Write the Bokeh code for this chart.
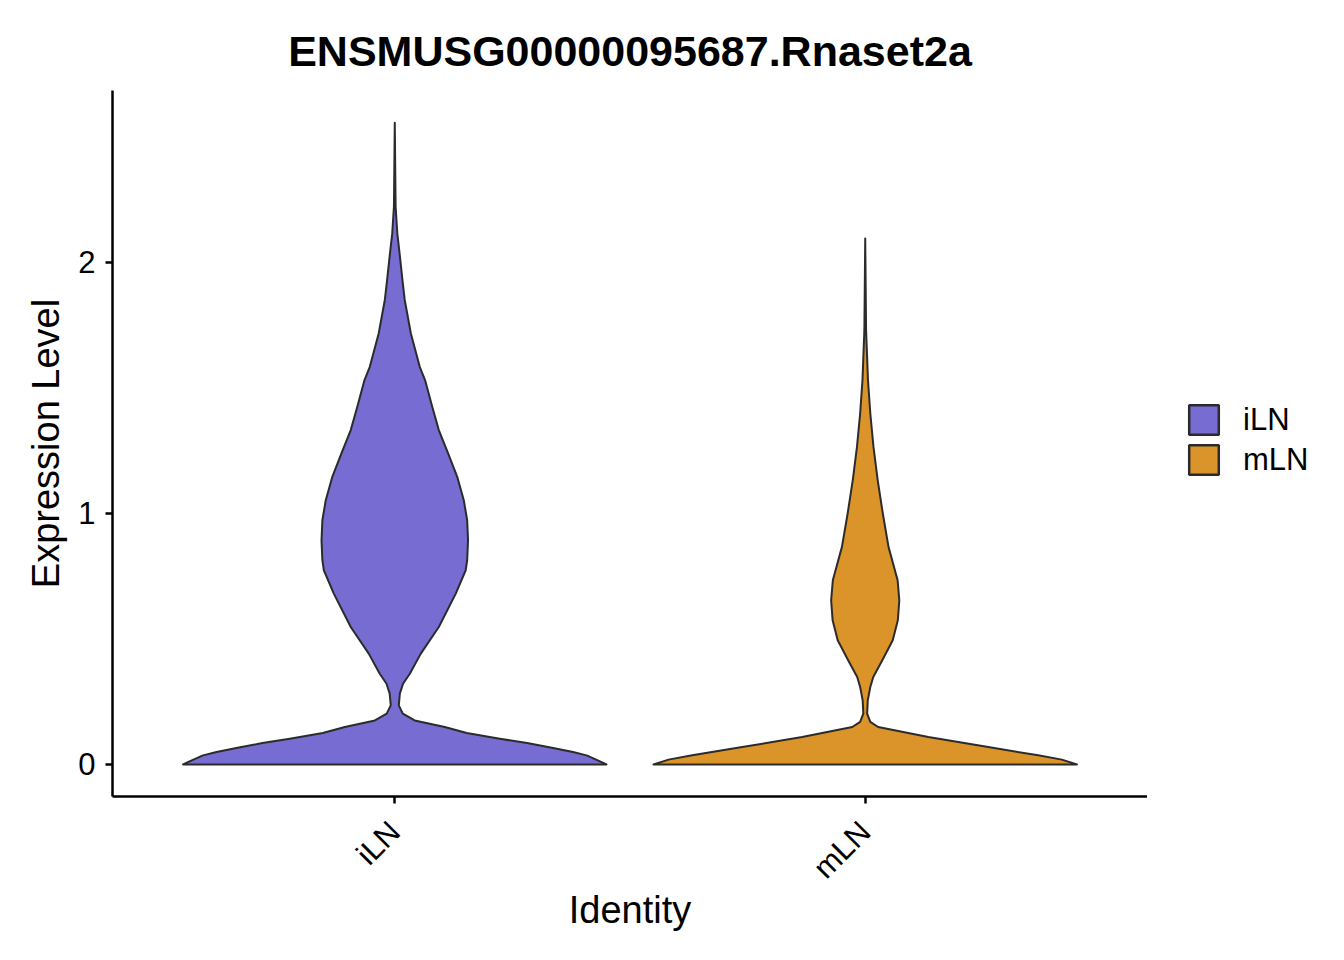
import math
from bokeh.plotting import figure
from bokeh.layouts import row
from bokeh.models import Legend, LegendItem, FixedTicker
from bokeh.embed import file_html
from bokeh.resources import INLINE

# ---- data ----
groups = ["iLN", "mLN"]
colors = ["#766CD2", "#DB942A"]
y_ticks = [0, 1, 2]

# expression level (y) and relative violin width (1 = widest) along each violin
iln_level = [0.000, 0.016, 0.036, 0.049, 0.066, 0.085, 0.102, 0.125, 0.149, 0.175,
             0.202, 0.235, 0.282, 0.321, 0.361, 0.441, 0.547, 0.680, 0.773, 0.813,
             0.892, 0.972, 1.052, 1.145, 1.238, 1.331, 1.424, 1.530, 1.583, 1.716,
             1.849, 1.915, 2.048, 2.114, 2.220, 2.555]
iln_width = [1.000, 0.959, 0.906, 0.842, 0.742, 0.625, 0.496, 0.340, 0.236, 0.094,
             0.038, 0.019, 0.024, 0.039, 0.071, 0.123, 0.208, 0.288, 0.335, 0.342,
             0.346, 0.342, 0.326, 0.295, 0.252, 0.208, 0.177, 0.143, 0.118, 0.076,
             0.047, 0.038, 0.021, 0.012, 0.004, 0.000]

mln_level = [0.000, 0.019, 0.036, 0.069, 0.109, 0.149, 0.169, 0.202, 0.255, 0.308,
             0.348, 0.414, 0.494, 0.574, 0.653, 0.733, 0.786, 0.866, 0.999, 1.131,
             1.264, 1.397, 1.530, 1.729, 2.094]
mln_width = [1.000, 0.929, 0.817, 0.581, 0.298, 0.061, 0.024, 0.009, 0.012, 0.024,
             0.038, 0.080, 0.130, 0.154, 0.161, 0.153, 0.136, 0.110, 0.083, 0.059,
             0.039, 0.024, 0.013, 0.004, 0.000]

FONT = "Liberation Sans"
H = 952

p = figure(width=1147, height=H, x_range=(0.4, 2.6), y_range=(-0.1278, 2.683),
           output_backend="svg", toolbar_location=None,
           min_border_left=112, min_border_right=0, min_border_top=90, min_border_bottom=156)
p.outline_line_color = None
p.grid.visible = False
p.background_fill_color = "white"
p.border_fill_color = "white"

HALF = 0.45
for i, (lv, wd) in enumerate([(iln_level, iln_width), (mln_level, mln_width)]):
    c = i + 1
    xs = [c - HALF * w for w in wd] + [c + HALF * w for w in reversed(wd)]
    ys = list(lv) + list(reversed(lv))
    p.patch(xs, ys, fill_color=colors[i], line_color="#2b2b2b", line_width=2,
            line_join="round")

# axes
for ax in (p.xaxis[0], p.yaxis[0]):
    ax.axis_line_width = 2.5
    ax.axis_line_color = "black"
    ax.major_tick_line_width = 2.5
    ax.major_tick_line_color = "black"
    ax.major_tick_in = 0
    ax.major_tick_out = 7
    ax.minor_tick_line_color = None
    ax.major_label_text_font = FONT
    ax.major_label_text_font_size = "31px"
    ax.major_label_text_color = "black"
    ax.axis_label_text_font = FONT
    ax.axis_label_text_font_size = "38px"
    ax.axis_label_text_font_style = "normal"
    ax.axis_label_text_color = "black"

p.xaxis.ticker = FixedTicker(ticks=[1, 2])
p.xaxis.major_label_overrides = {i + 1: g for i, g in enumerate(groups)}
p.xaxis.major_label_orientation = math.pi / 4
p.xaxis.major_label_standoff = 23
p.xaxis.axis_label = "Identity"
p.xaxis.axis_label_standoff = -12

p.yaxis.ticker = FixedTicker(ticks=y_ticks)
p.yaxis.major_label_standoff = 10
p.yaxis.axis_label = "Expression Level"
p.yaxis.axis_label_standoff = 8

p.title.text = "ENSMUSG00000095687.Rnaset2a"
p.title.align = "center"
p.title.text_font = FONT
p.title.text_font_size = "43px"
p.title.text_font_style = "bold"
p.title.text_color = "black"
p.title.standoff = 32

# ---- legend panel (separate narrow figure to the right of the panel) ----
p2 = figure(width=1344 - 1147, height=H, x_range=(0, 1), y_range=(0, 1),
            x_axis_type=None, y_axis_type=None,
            output_backend="svg", toolbar_location=None,
            min_border_left=0, min_border_right=0, min_border_top=0, min_border_bottom=0)
p2.outline_line_color = None
p2.grid.visible = False
p2.background_fill_color = "white"
p2.border_fill_color = "white"
keys = []
for i, g in enumerate(groups):
    keys.append(p2.rect(x=[-10], y=[-10], width=1, height=1, fill_color=colors[i],
                        line_color="#2b2b2b", line_width=2.5))

legend = Legend(items=[LegendItem(label=g, renderers=[keys[i]]) for i, g in enumerate(groups)],
                location=(38, 318))
legend.label_text_font = FONT
legend.label_text_font_size = "31px"
legend.label_text_color = "black"
legend.glyph_width = 37
legend.glyph_height = 37
legend.label_height = 37
legend.spacing = 3
legend.label_standoff = 21
legend.padding = 0
legend.margin = 0
legend.border_line_color = None
legend.background_fill_alpha = 0
p2.add_layout(legend)

layout = row(p, p2, spacing=0)
open("out.html", "w").write(file_html(layout, INLINE))
